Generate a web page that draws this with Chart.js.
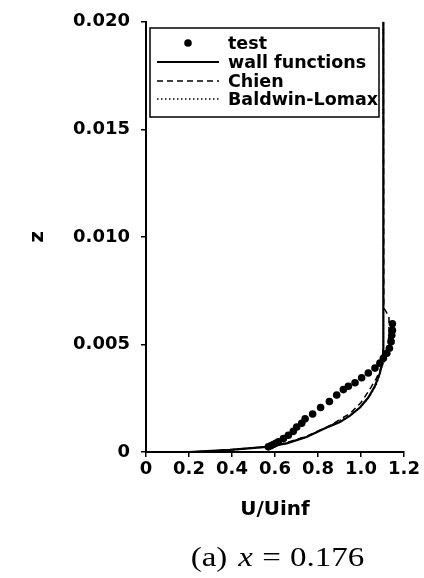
<!DOCTYPE html>
<html><head><meta charset="utf-8">
<script src="https://cdn.jsdelivr.net/npm/chart.js@4/dist/chart.umd.min.js"></script>
<style>html,body{margin:0;padding:0;background:#fff;}canvas{display:block;}</style>
</head><body>
<canvas id="c" width="424" height="578"></canvas>
<script>
// ---- data ----
const xTickLabels = ['0','0.2','0.4','0.6','0.8','1.0','1.2'];
const yTickLabels = ['0','0.005','0.010','0.015','0.020'];
const seriesNames = ['test','wall functions','Chien','Baldwin-Lomax'];
const xTitle = 'U/Uinf';
const yTitle = 'z';
const captionParts = ['(a)', 'x', '=', '0.176'];

const testU = [0.569,0.580,0.592,0.604,0.616,0.639,0.662,0.685,0.701,0.724,0.740,0.775,0.812,0.853,0.887,0.918,0.941,0.972,1.003,1.034,1.065,1.088,1.104,1.120,1.132,1.140,1.143,1.146,1.146];
const testZ = [0.00024,0.00029,0.00035,0.00041,0.00047,0.00063,0.00078,0.00096,0.00116,0.00134,0.00154,0.00177,0.00207,0.00235,0.00265,0.00290,0.00306,0.00322,0.00345,0.00367,0.00390,0.00413,0.00436,0.00459,0.00482,0.00513,0.00543,0.00566,0.00596];

const wallU = [0.20,0.39,0.56,0.654,0.747,0.85,0.902,0.949,0.995,1.034,1.065,1.088,1.100,1.104,1.104];
const wallZ = [0.0,0.0001,0.00024,0.0004,0.0007,0.00118,0.00139,0.00169,0.00207,0.00253,0.00307,0.00367,0.00429,0.00482,0.020];

const chienU = [0.20,0.39,0.56,0.65,0.75,0.85,0.95,1.00,1.04,1.07,1.095,1.115,1.125,1.130,1.130,1.106,1.104];
const chienZ = [0.0,0.0001,0.00024,0.00042,0.00075,0.0012,0.0018,0.0023,0.0029,0.0034,0.0039,0.0044,0.0049,0.0055,0.0063,0.0067,0.020];

const blU = [0.20,0.40,0.57,0.66,0.75,0.85,0.95,1.00,1.04,1.07,1.09,1.10,1.104,1.104];
const blZ = [0.0,0.0001,0.00026,0.00042,0.00072,0.00118,0.00172,0.0021,0.0026,0.0031,0.0037,0.0043,0.0050,0.020];

function pts(us, zs){ return us.map((u,i)=>({x:u, y:zs[i]})); }

const SANS = 'DejaVu Sans';

const boxLegend = {
  id:'boxLegend',
  afterDraw(chart){
    const ctx = chart.ctx;
    const L = 150, T = 28, R = 379, B = 117;
    ctx.save();
    ctx.fillStyle = '#fff';
    ctx.fillRect(L, T, R-L, B-T);
    ctx.strokeStyle = '#000';
    ctx.lineWidth = 1.5;
    ctx.strokeRect(L, T, R-L, B-T);
    const rows = [43, 62, 81, 99];
    const ds = chart.data.datasets;
    ctx.font = 'bold 17.5px "' + SANS + '"';
    ctx.textBaseline = 'middle';
    ctx.textAlign = 'left';
    ds.forEach((d, i) => {
      const y = rows[i];
      ctx.fillStyle = '#000';
      if (!d.showLine) {
        ctx.beginPath();
        ctx.arc(188, y, 3.8, 0, Math.PI*2);
        ctx.fill();
      } else {
        ctx.beginPath();
        ctx.setLineDash(d.borderDash || []);
        ctx.lineWidth = d.borderWidth;
        ctx.strokeStyle = d.borderColor;
        ctx.moveTo(157, y); ctx.lineTo(219, y);
        ctx.stroke();
        ctx.setLineDash([]);
      }
      ctx.fillText(d.label, 228, y + 1);
    });
    ctx.restore();
  }
};

const caption = {
  id:'caption',
  afterDraw(chart){
    const ctx = chart.ctx;
    ctx.save();
    ctx.fillStyle = '#000';
    ctx.textBaseline = 'alphabetic';
    ctx.textAlign = 'left';
    const size = 28, sx = 1.18;
    const fr = size + 'px "Liberation Serif"';
    const fi = 'italic ' + size + 'px "Liberation Serif"';
    const fonts = [fr, fi, fr, fr];
    const gaps = [0.33*size, 0.28*size, 0.28*size, 0];
    let widths = captionParts.map((p,i)=>{ ctx.font = fonts[i]; return ctx.measureText(p).width; });
    let total = widths.reduce((a,b)=>a+b,0) + gaps.reduce((a,b)=>a+b,0);
    let x = 277.5 - total*sx/2;
    ctx.translate(x, 566);
    ctx.scale(sx, 1);
    let cx = 0;
    captionParts.forEach((p,i)=>{ ctx.font = fonts[i]; ctx.fillText(p, cx, 0); cx += widths[i] + gaps[i]; });
    ctx.restore();
  }
};

new Chart(document.getElementById('c'), {
  type: 'scatter',
  data: {
    datasets: [
      { label: seriesNames[0], data: pts(testU, testZ), showLine:false, pointRadius:3.8, pointHoverRadius:3.8,
        pointBackgroundColor:'#000', pointBorderColor:'#000', pointBorderWidth:0, order:0 },
      { label: seriesNames[1], data: pts(wallU, wallZ), showLine:true, borderColor:'#000', borderWidth:2.2,
        pointRadius:0, tension:0, fill:false, order:1 },
      { label: seriesNames[2], data: pts(chienU, chienZ), showLine:true, borderColor:'#000', borderWidth:1.5,
        borderDash:[6,4], pointRadius:0, tension:0, fill:false, order:2 },
      { label: seriesNames[3], data: pts(blU, blZ), showLine:true, borderColor:'#000', borderWidth:1.5,
        borderDash:[1.5,2.5], pointRadius:0, tension:0, fill:false, order:3 }
    ]
  },
  options: {
    responsive:false,
    devicePixelRatio:1,
    animation:false,
    events:[],
    layout:{ padding:{ left:0, right:20, top:15, bottom:56 } },
    plugins:{ legend:{display:false}, title:{display:false}, tooltip:{enabled:false} },
    scales:{
      x:{
        type:'linear', min:0, max:1.2,
        ticks:{ stepSize:0.2, autoSkip:false, maxRotation:0, padding:2, color:'#000',
          font:{family:SANS, size:18, weight:'bold'},
          callback:(v,i)=>xTickLabels[i] },
        grid:{ display:true, drawOnChartArea:false, drawTicks:true, tickLength:5, color:'#000', lineWidth:1.5 },
        border:{ display:true, color:'#000', width:2 },
        title:{ display:true, text:xTitle, color:'#000', font:{family:SANS, size:20, weight:'bold'}, padding:{top:0,bottom:0} },
        afterFit(s){ s.height = 70; }
      },
      y:{
        type:'linear', min:0, max:0.02,
        ticks:{ stepSize:0.005, autoSkip:false, padding:11, color:'#000',
          font:{family:SANS, size:18, weight:'bold'},
          callback:(v,i)=>yTickLabels[i] },
        grid:{ display:true, drawOnChartArea:false, drawTicks:true, tickLength:5, color:'#000', lineWidth:1.5 },
        border:{ display:true, color:'#000', width:2 },
        title:{ display:true, text:yTitle, color:'#000', font:{family:SANS, size:20, weight:'bold'}, padding:{top:26,bottom:0} },
        afterFit(s){ s.width = 146; }
      }
    }
  },
  plugins:[boxLegend, caption]
});
</script>
</body></html>
